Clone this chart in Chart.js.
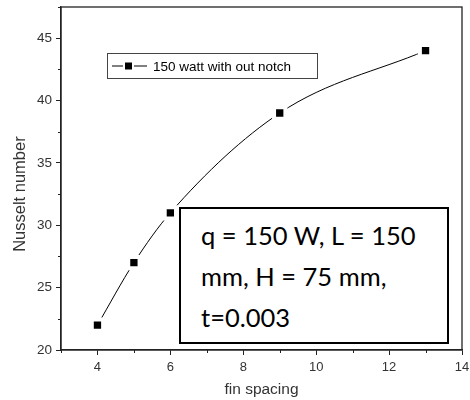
<!DOCTYPE html>
<html>
<head>
<meta charset="utf-8">
<script src="https://cdn.jsdelivr.net/npm/chart.js@4.4.1/dist/chart.umd.min.js"></script>
<style>
  html, body { margin: 0; padding: 0; background: #fff; }
  #wrap { position: relative; width: 470px; height: 400px; }
  #note {
    position: absolute; left: 179px; top: 207px; width: 266px; height: 133px;
    border: 2px solid #000; background: #fff;
    font-family: Lato, sans-serif; font-size: 25.5px; line-height: 41px; color: #000;
  }
  #note div { padding-left: 20px; white-space: nowrap; }
</style>
</head>
<body>
<div id="wrap">
  <canvas id="line-Chart" width="470" height="400"></canvas>
  <div id="note"><div style="margin-top:6px">q = 150 W, L = 150</div><div>mm, H = 75 mm,</div><div>t=0.003</div></div>
</div>
<script>
// data
var finSpacing = [4, 5, 6, 9, 13];
var nusselt = [22, 27, 31, 39, 44];
var seriesName = '150 watt with out notch';
var yTitle = 'Nusselt number';
var xTicks = [4, 6, 8, 10, 12, 14];
var xMinor = [3, 5, 7, 9, 11, 13];
var yTicks = [20, 25, 30, 35, 40, 45];
var yMinor = [22.5, 27.5, 32.5, 37.5, 42.5, 47.5];

var axisColor = '#222';
var labelColor = '#333';
var font = 'Arial, "Liberation Sans", sans-serif';

// frame, minor ticks, y title and the legend box
var extras = {
    id: 'extras',
    afterDraw: function (chart) {
        var ctx = chart.ctx;
        var a = chart.chartArea;
        var xs = chart.scales.x, ys = chart.scales.y;
        ctx.save();
        ctx.strokeStyle = axisColor;
        ctx.lineWidth = 1.3;
        ctx.strokeRect(a.left, a.top, a.right - a.left, a.bottom - a.top);
        ctx.lineWidth = 1;
        ctx.beginPath();
        xMinor.forEach(function (v) {
            var px = Math.round(xs.getPixelForValue(v)) + 0.5;
            ctx.moveTo(px, a.bottom);
            ctx.lineTo(px, a.bottom + 3);
        });
        yMinor.forEach(function (v) {
            var py = Math.round(ys.getPixelForValue(v)) + 0.5;
            ctx.moveTo(a.left, py);
            ctx.lineTo(a.left - 3, py);
        });
        ctx.stroke();

        // y title, sits a bit below the axis middle like the original
        ctx.save();
        ctx.translate(20, ys.getPixelForValue(32.5));
        ctx.rotate(-Math.PI / 2);
        ctx.fillStyle = labelColor;
        ctx.font = '16.5px ' + font;
        ctx.textAlign = 'center';
        ctx.textBaseline = 'middle';
        ctx.fillText(yTitle, 0, 0);
        ctx.restore();

        // legend
        var lx = a.left + 46, ly = a.top + 46, lw = 210, lh = 25;
        ctx.fillStyle = '#fff';
        ctx.fillRect(lx, ly, lw, lh);
        ctx.strokeStyle = '#444';
        ctx.lineWidth = 1;
        ctx.strokeRect(lx + 0.5, ly + 0.5, lw, lh);
        var cy = ly + lh / 2 + 0.5;
        ctx.strokeStyle = '#000';
        ctx.beginPath();
        ctx.moveTo(lx + 5, cy); ctx.lineTo(lx + 16, cy);
        ctx.moveTo(lx + 27, cy); ctx.lineTo(lx + 40, cy);
        ctx.stroke();
        ctx.fillStyle = '#000';
        ctx.fillRect(lx + 18, cy - 3.5, 7, 7);
        ctx.font = '13.5px ' + font;
        ctx.textBaseline = 'middle';
        ctx.fillText(chart.data.datasets[0].label, lx + 46, cy + 1);
        ctx.restore();
    }
};

var ctx = document.getElementById('line-Chart');
var chart = new Chart(ctx, {
    type: 'line',
    data: {
        datasets: [{
            label: seriesName,
            data: finSpacing.map(function (x, i) { return { x: x, y: nusselt[i] }; }),
            borderColor: '#000',
            borderWidth: 1,
            cubicInterpolationMode: 'monotone',
            pointStyle: 'rect',
            pointRadius: 8,
            pointBorderWidth: 4,
            pointBorderColor: '#fff',
            pointBackgroundColor: '#000',
            fill: false
        }]
    },
    options: {
        responsive: false,
        animation: false,
        events: [],
        layout: { autoPadding: false, padding: { top: 7, right: 8, left: 0, bottom: 0 } },
        plugins: { legend: { display: false }, tooltip: { enabled: false } },
        scales: {
            x: {
                type: 'linear',
                min: 3, max: 14,
                afterBuildTicks: function (s) { s.ticks = xTicks.map(function (v) { return { value: v }; }); },
                afterFit: function (s) { s.height = 50; s.paddingLeft = 0; s.paddingRight = 0; },
                grid: { drawOnChartArea: false, tickLength: 5, tickColor: axisColor },
                border: { color: axisColor, width: 1.3 },
                ticks: { color: labelColor, padding: 5, maxRotation: 0, font: { family: font, size: 13 } },
                title: { display: true, text: 'fin spacing', color: labelColor, padding: { top: 0, bottom: 1 }, font: { family: font, size: 15.5 } }
            },
            y: {
                type: 'linear',
                min: 20, max: 47.5,
                afterBuildTicks: function (s) { s.ticks = yTicks.map(function (v) { return { value: v }; }); },
                afterFit: function (s) { s.width = 61; s.paddingTop = 0; s.paddingBottom = 0; },
                grid: { drawOnChartArea: false, tickLength: 5, tickColor: axisColor },
                border: { color: axisColor, width: 1.3 },
                ticks: { color: labelColor, padding: 4, font: { family: font, size: 13.5 } }
            }
        }
    },
    plugins: [extras]
});
</script>
</body>
</html>
